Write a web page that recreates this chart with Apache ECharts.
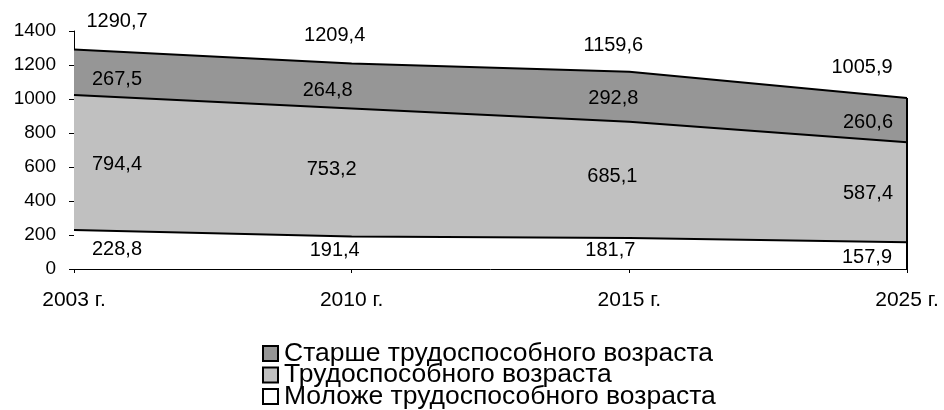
<!DOCTYPE html>
<html><head><meta charset="utf-8">
<script src="https://cdn.jsdelivr.net/npm/echarts@6/dist/echarts.min.js"></script>
<style>html,body{margin:0;padding:0;background:#fff}#c{width:944px;height:410px}</style>
</head><body><div id="c"></div>
<script>
const categories = ['2003 г.', '2010 г.', '2015 г.', '2025 г.'];
const younger = [228.8, 191.4, 181.7, 157.9];
const working = [794.4, 753.2, 685.1, 587.4];
const older = [267.5, 264.8, 292.8, 260.6];
const totals = [1290.7, 1209.4, 1159.6, 1005.9];
const yTicks = [0, 200, 400, 600, 800, 1000, 1200, 1400];
const names = ['Моложе трудоспособного возраста', 'Трудоспособного возраста', 'Старше трудоспособного возраста'];

const fmt = v => String(v.toFixed(1)).replace('.', ',');
const FONT = 'Liberation Sans, Arial, sans-serif';

// label offsets (style only)
const offYounger = [[43, 19], [-17, 14], [-19, 12], [-40, 15]];
const offWorking = [[43, 69], [-20, 61], [-17, 55], [-39, 51]];
const offOlder = [[43, 30], [-24, 27], [-16, 27], [-39, 24]];
const offTotal = [[43, -28], [-17, -28], [-16, -26], [-45, -31]];

function items(vals, offs) {
  return vals.map((v, i) => ({ value: v, label: { offset: offs[i] } }));
}
const lbl = { show: true, position: 'inside', color: '#000', fontSize: 20, fontFamily: FONT, formatter: p => fmt(p.value) };

function areaSeries(name, vals, offs, color) {
  return {
    name, type: 'line', stack: 'total', data: items(vals, offs),
    symbol: 'circle', symbolSize: 0, showSymbol: true,
    itemStyle: { color },
    lineStyle: { color: '#000', width: 2 },
    areaStyle: { color, opacity: 1 },
    label: lbl, emphasis: { disabled: true }, z: 2
  };
}

const chart = echarts.init(document.getElementById('c'), null, { renderer: 'canvas' });
chart.setOption({
  animation: false,
  textStyle: { fontFamily: FONT },
  grid: { left: 74, right: 37, top: 31, bottom: 141 },
  xAxis: {
    type: 'category', data: categories, boundaryGap: false,
    axisLine: { lineStyle: { color: '#000', width: 1 } },
    axisTick: { show: true, length: 4, lineStyle: { color: '#000' } },
    axisLabel: { color: '#000', fontSize: 21, fontFamily: FONT, margin: 21 },
    splitLine: { show: false }
  },
  yAxis: {
    type: 'value', min: yTicks[0], max: yTicks[yTicks.length - 1], interval: 200,
    axisLine: { show: true, lineStyle: { color: '#000', width: 1 } },
    axisTick: { show: true, length: 5, lineStyle: { color: '#000' } },
    axisLabel: { color: '#000', fontSize: 19, fontFamily: FONT, margin: 18, formatter: v => String(v) },
    splitLine: { show: false }
  },
  legend: {
    orient: 'vertical', left: 262, top: 340, height: 80, padding: 0,
    itemWidth: 15, itemHeight: 15, itemGap: -5.5,
    icon: 'rect',
    data: [names[2], names[1], names[0]],
    itemStyle: { borderColor: '#000', borderWidth: 2 },
    textStyle: { color: '#000', fontSize: 26.5, fontFamily: FONT, padding: [0, 0, 0, 1] }
  },
  series: [
    areaSeries(names[0], younger, offYounger, '#ffffff'),
    areaSeries(names[1], working, offWorking, '#c0c0c0'),
    Object.assign(areaSeries(names[2], older, offOlder, '#969696'), {
      markLine: {
        silent: true, symbol: 'none', label: { show: false },
        lineStyle: { color: '#000', width: 2, type: 'solid' },
        data: [[{ coord: [categories[3], 0] }, { coord: [categories[3], totals[3]] }]]
      }
    }),
    {
      name: 'total', type: 'line', data: items(totals, offTotal),
      symbol: 'circle', symbolSize: 0, lineStyle: { opacity: 0 },
      itemStyle: { color: 'transparent' },
      label: lbl, emphasis: { disabled: true }, z: 3
    }
  ]
});
</script></body></html>
